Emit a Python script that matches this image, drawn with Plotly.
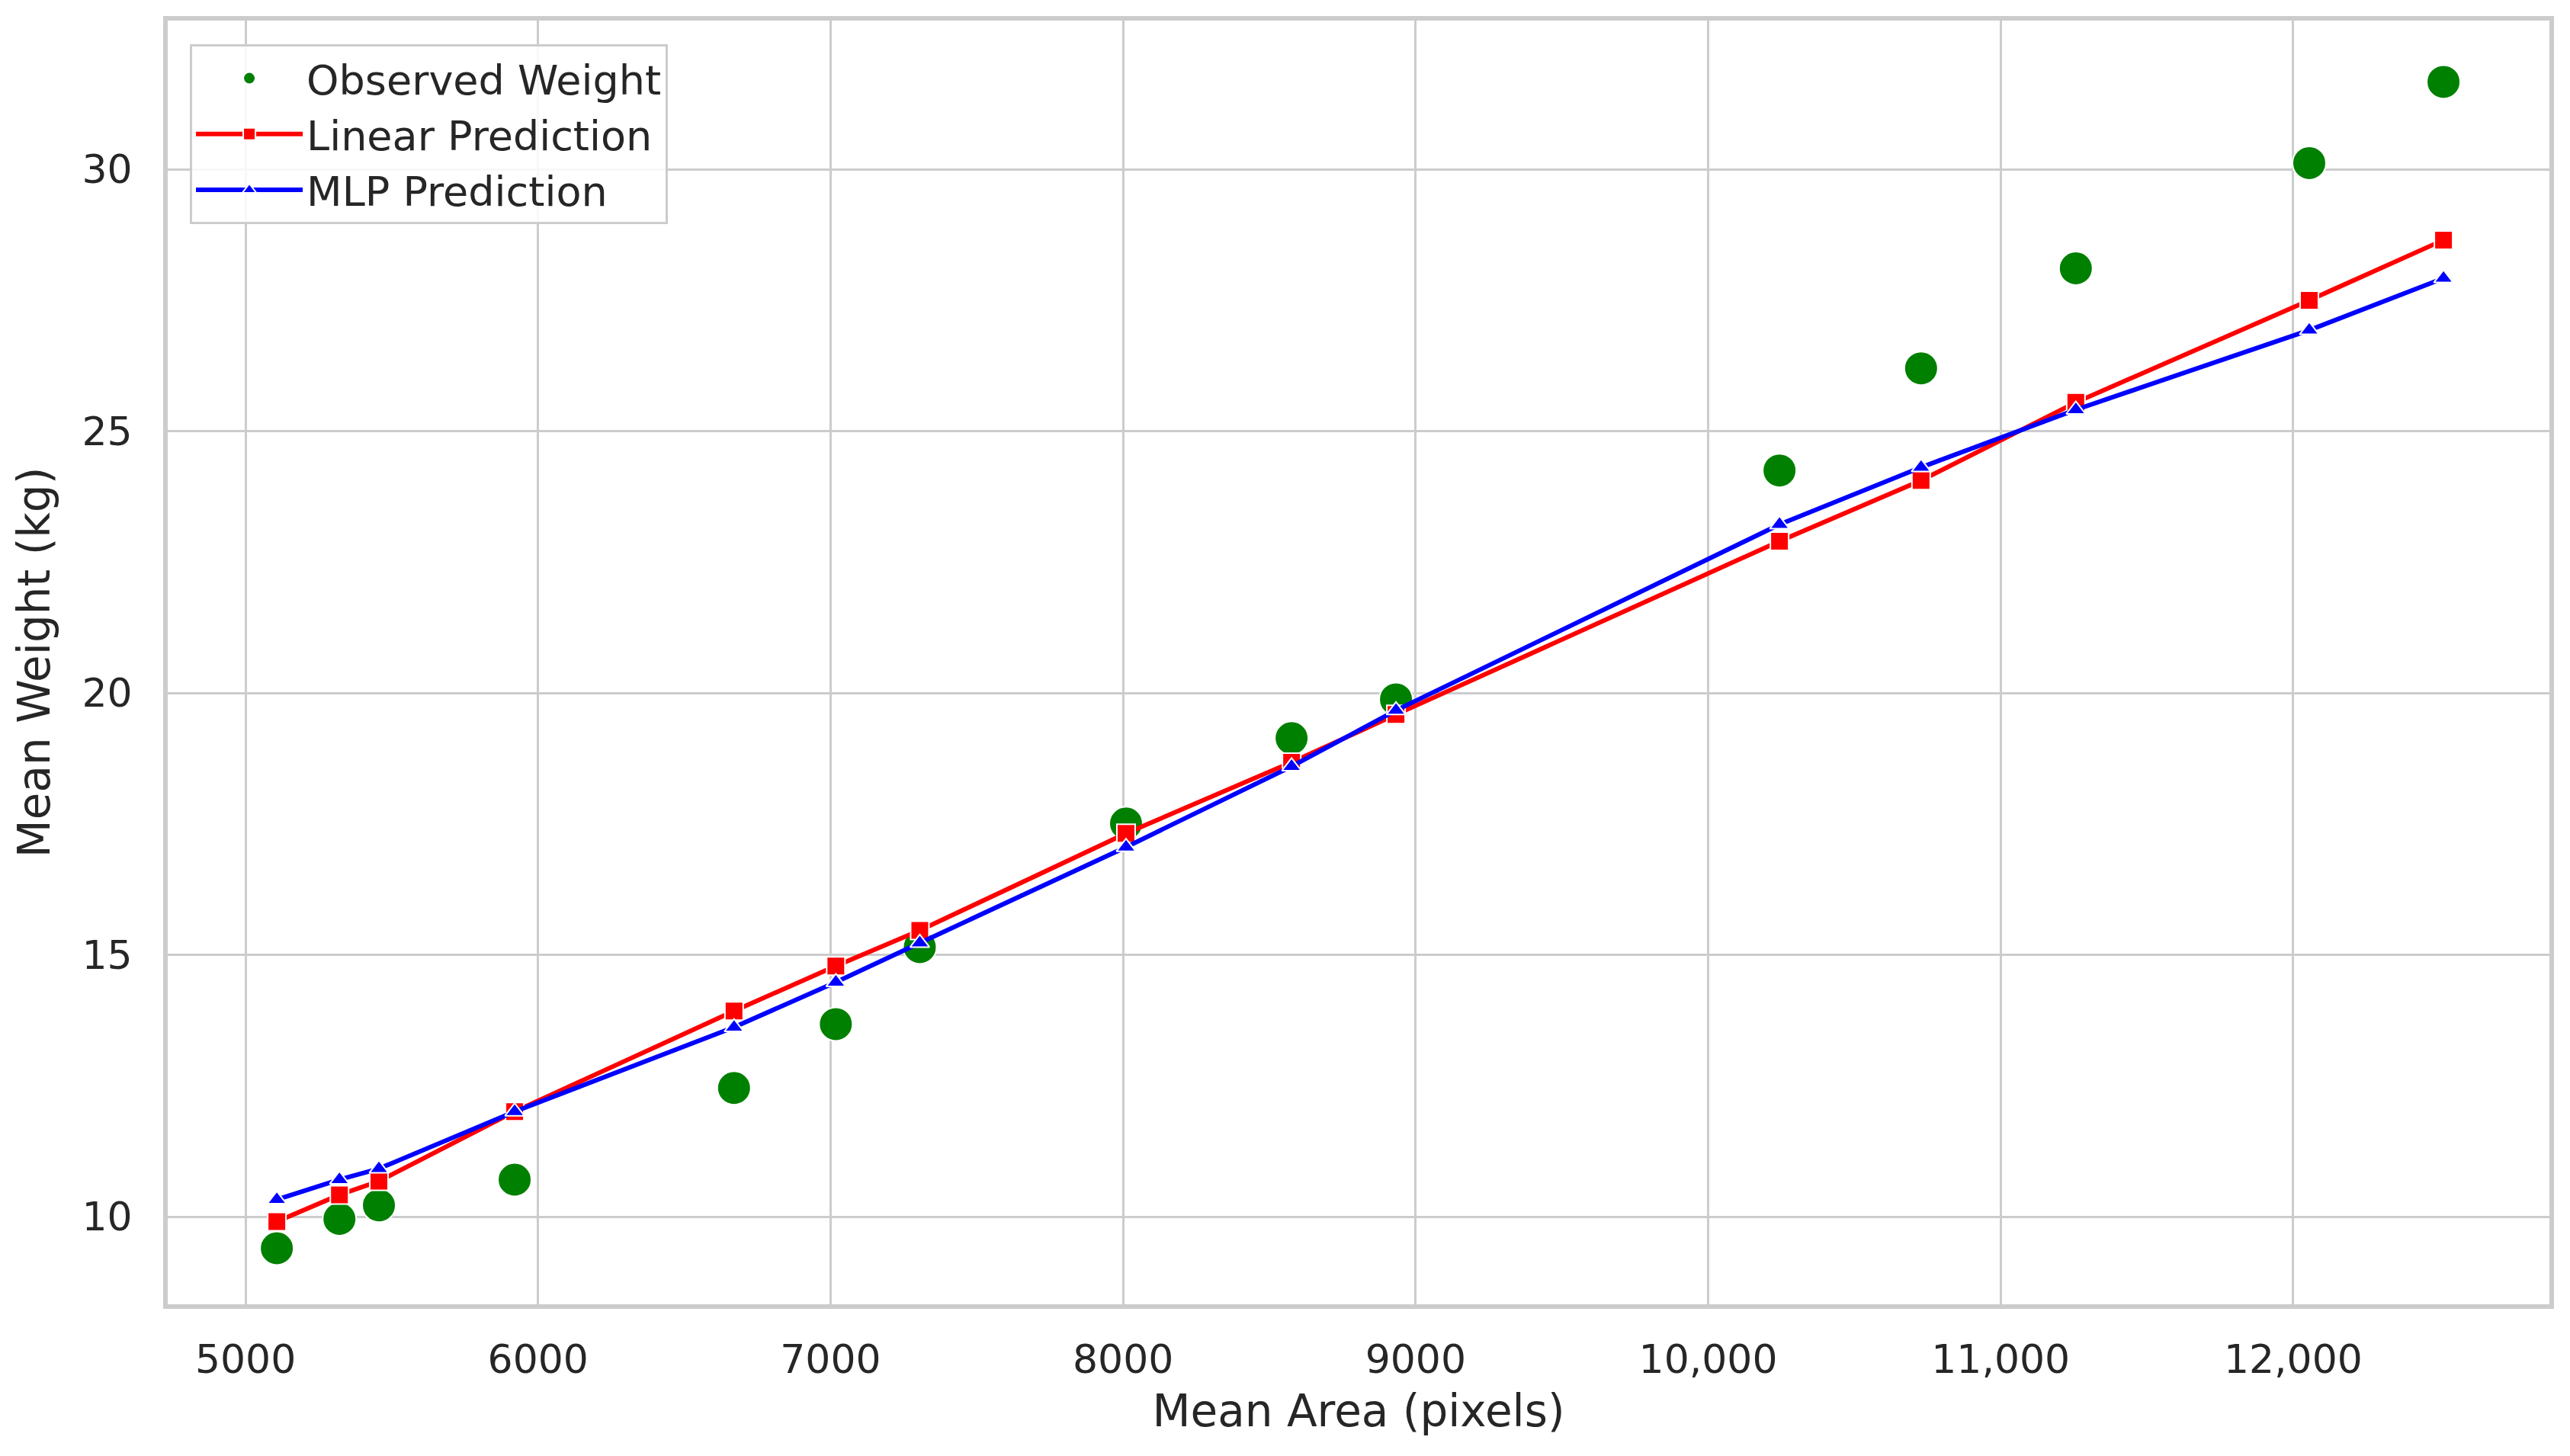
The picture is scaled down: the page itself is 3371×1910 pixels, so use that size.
import plotly.graph_objects as go

# Data
mean_area = [5107, 5321, 5456, 5920, 6670, 7018, 7305, 8010, 8576, 8933,
             10244, 10728, 11257, 12055, 12514]
observed_weight = [9.40, 9.96, 10.22, 10.71, 12.46, 13.68, 15.15, 17.51, 19.14, 19.88,
                   24.25, 26.20, 28.11, 30.12, 31.67]
linear_pred = [9.91, 10.42, 10.68, 12.01, 13.93, 14.79, 15.47, 17.32, 18.68, 19.59,
               22.90, 24.06, 25.55, 27.50, 28.65]
mlp_pred = [10.33, 10.71, 10.92, 12.01, 13.62, 14.48, 15.23, 17.06, 18.60, 19.67,
            23.22, 24.31, 25.41, 26.93, 27.92]

x_tickvals = [5000, 6000, 7000, 8000, 9000, 10000, 11000, 12000]
x_ticktext = ["5000", "6000", "7000", "8000", "9000", "10,000", "11,000", "12,000"]
y_tickvals = [10, 15, 20, 25, 30]
y_ticktext = ["10", "15", "20", "25", "30"]

FONT = "DejaVu Sans, Liberation Sans, sans-serif"
TXT = "#262626"
GRID = "#cccccc"

fig = go.Figure()
fig.add_trace(go.Scatter(
    x=mean_area, y=observed_weight, mode="markers", name="Observed Weight",
    marker=dict(symbol="circle", size=44, color="green",
                line=dict(color="white", width=2)),
))
fig.add_trace(go.Scatter(
    x=mean_area, y=linear_pred, mode="lines+markers", name="Linear Prediction",
    line=dict(color="#ff0000", width=6),
    marker=dict(symbol="square", size=24, color="#ff0000",
                line=dict(color="white", width=2)),
))
fig.add_trace(go.Scatter(
    x=mean_area, y=mlp_pred, mode="lines+markers", name="MLP Prediction",
    line=dict(color="#0000ff", width=6),
    marker=dict(symbol="triangle-up", size=22, color="#0000ff",
                line=dict(color="white", width=2)),
))

fig.update_layout(
    width=3371, height=1910,
    margin=dict(l=220, r=27, t=27, b=199, pad=0),
    paper_bgcolor="white", plot_bgcolor="white",
    font=dict(family=FONT, color=TXT, size=52),
    showlegend=True,
    legend=dict(
        x=0.0093, y=0.9816, xanchor="left", yanchor="top",
        bgcolor="rgba(255,255,255,0.85)", bordercolor=GRID, borderwidth=3,
        font=dict(family=FONT, size=54, color=TXT),
        itemsizing="trace", itemwidth=140,
    ),
)
fig.update_xaxes(
    range=[4734, 12876], tickmode="array", tickvals=x_tickvals, ticktext=x_ticktext,
    showgrid=True, gridcolor=GRID, gridwidth=3, zeroline=False,
    showline=True, linecolor=GRID, linewidth=6, mirror=True,
    ticks="outside", ticklen=22, tickcolor="rgba(0,0,0,0)",
    tickfont=dict(family=FONT, size=52, color=TXT),
    title=dict(text="Mean Area (pixels)", font=dict(family=FONT, size=58, color=TXT), standoff=20),
)
fig.update_yaxes(
    range=[8.33, 32.84], tickmode="array", tickvals=y_tickvals, ticktext=y_ticktext,
    showgrid=True, gridcolor=GRID, gridwidth=3, zeroline=False,
    showline=True, linecolor=GRID, linewidth=6, mirror=True,
    ticks="outside", ticklen=30, tickcolor="rgba(0,0,0,0)",
    tickfont=dict(family=FONT, size=52, color=TXT),
    title=dict(text="Mean Weight (kg)", font=dict(family=FONT, size=58, color=TXT), standoff=25),
)

fig.write_html("out.html")
